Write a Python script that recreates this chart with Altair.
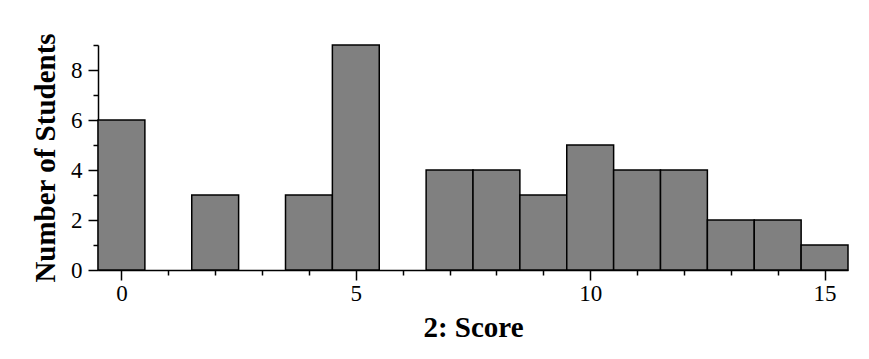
import altair as alt
import pandas as pd

scores = list(range(16))
counts = [6, 0, 3, 0, 3, 9, 0, 4, 4, 3, 5, 4, 4, 2, 2, 1]
x_tick_values = list(range(16))
y_tick_values = list(range(10))

df = pd.DataFrame({"score": scores, "count": counts})

FONT = "Liberation Serif"

x_scale = alt.Scale(domain=[-0.5, 15.5], nice=False, zero=False)
y_scale = alt.Scale(domain=[0, 9], nice=False)

chart = (
    alt.Chart(df)
    .transform_filter("datum.count > 0")
    .transform_calculate(x0="datum.score - 0.5", x1="datum.score + 0.5", base="0")
    .mark_bar(fill="#808080", stroke="black", strokeWidth=1.5)
    .encode(
        x=alt.X(
            "x0:Q",
            scale=x_scale,
            axis=alt.Axis(
                values=x_tick_values,
                title="2: Score",
                labelExpr="datum.value % 5 === 0 ? datum.label : ''",
                tickSize={"condition": {"test": "datum.value % 5 === 0", "value": 10}, "value": 5},
                labelPadding=2,
                titlePadding=8,
                grid=False,
            ),
        ),
        x2="x1:Q",
        y=alt.Y(
            "count:Q",
            scale=y_scale,
            axis=alt.Axis(
                values=y_tick_values,
                title="Number of Students",
                labelExpr="datum.value % 2 === 0 ? datum.label : ''",
                tickSize={"condition": {"test": "datum.value % 2 === 0", "value": 10}, "value": 5},
                labelPadding=6,
                titlePadding=10,
                grid=False,
            ),
        ),
        y2="base:Q",
    )
    .properties(
        width=750,
        height=225,
        autosize=alt.AutoSizeParams(type="none"),
        padding={"left": 98, "top": 45, "right": 21, "bottom": 89},
        background="white",
    )
    .configure_view(stroke=None)
    .configure_axis(
        domainColor="black",
        domainWidth=1.5,
        tickColor="black",
        tickWidth=1.5,
        labelFont=FONT,
        labelFontSize=23,
        labelColor="black",
        titleFont=FONT,
        titleFontSize=29,
        titleFontWeight="bold",
        titleColor="black",
        labelFlush=False,
        labelOverlap=False,
    )
)

chart.save("out.html", embed_options={"renderer": "svg", "actions": False})
